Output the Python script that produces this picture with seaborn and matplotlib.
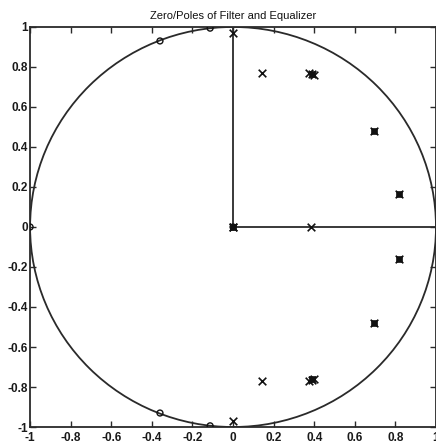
import matplotlib
matplotlib.use("Agg")
import matplotlib.pyplot as plt
from matplotlib.patches import Circle
import seaborn as sns
import pandas as pd

# Zeros ('o')
zero_re = [-1.0, -0.36, -0.113, -0.36, -0.113, 0.0]
zero_im = [0.0, 0.93, 0.994, -0.93, -0.994, 0.0]

# Poles ('x')
pole_re = [0.0, 0.143, 0.375, 0.39, 0.40, 0.695, 0.816, 0.384, 0.0,
           0.816, 0.695, 0.375, 0.39, 0.40, 0.143, 0.0, 0.0]
pole_im = [0.97, 0.77, 0.77, 0.765, 0.76, 0.48, 0.165, 0.0, 0.0,
           -0.16, -0.478, -0.77, -0.765, -0.76, -0.77, -0.97, 0.0]

# Poles that appear as overlapped/filled squares
dense_re = [0.39, 0.695, 0.816, 0.816, 0.695, 0.39, 0.0]
dense_im = [0.765, 0.48, 0.165, -0.16, -0.478, -0.762, 0.0]

# Reference lines from the origin
vline_x = [0.0, 0.0]
vline_y = [0.0, 1.0]
hline_x = [0.0, 1.0]
hline_y = [0.0, 0.0]

xticks = [-1, -0.8, -0.6, -0.4, -0.2, 0, 0.2, 0.4, 0.6, 0.8, 1]
yticks = [-1, -0.8, -0.6, -0.4, -0.2, 0, 0.2, 0.4, 0.6, 0.8, 1]
title = "Zero/Poles of Filter and Equalizer"

sns.set_style("ticks")
plt.rcParams['font.family'] = ['Liberation Sans', 'DejaVu Sans']

fig = plt.figure(figsize=(4.36, 4.47), dpi=100)
ax = fig.add_axes([0.069, 0.0447, 0.931, 0.895])

lc = "#2a2a2a"
ax.add_patch(Circle((0, 0), 1.0, fill=False, edgecolor=lc, linewidth=1.3))

sns.lineplot(x=vline_x, y=vline_y, ax=ax, color=lc, linewidth=1.3, sort=False,
             estimator=None)
sns.lineplot(x=hline_x, y=hline_y, ax=ax, color=lc, linewidth=1.3, sort=False,
             estimator=None)

sns.scatterplot(x=dense_re, y=dense_im, ax=ax, marker="s", s=22, color="#111111",
                edgecolor="#111111", linewidth=0.5, zorder=4)
sns.scatterplot(x=pole_re, y=pole_im, ax=ax, marker="x", s=30, color="#111111",
                linewidth=1.2, zorder=5)
sns.scatterplot(x=zero_re, y=zero_im, ax=ax, marker="o", s=18, facecolor="none",
                edgecolor="#111111", linewidth=1.0, zorder=5)

ax.set_xlim(-1, 1)
ax.set_ylim(-1, 1)
ax.set_xticks(xticks)
ax.set_yticks(yticks)
ax.set_xticklabels([f"{t:g}" for t in xticks], fontsize=8.5, fontweight="bold")
ax.set_yticklabels([f"{t:g}" for t in yticks], fontsize=8.5, fontweight="bold")
ax.tick_params(direction="in", length=4, width=1.0, color=lc, top=True, right=True,
               labelcolor="#1a1a1a")
ax.tick_params(axis="x", pad=3.5)
ax.tick_params(axis="y", pad=1.5)
for sp in ax.spines.values():
    sp.set_visible(True)
    sp.set_linewidth(1.3)
    sp.set_color(lc)
ax.set_title(title, fontsize=8, pad=6, color="#111111")
ax.set_xlabel("")
ax.set_ylabel("")

fig.savefig("out.png", dpi=100)
